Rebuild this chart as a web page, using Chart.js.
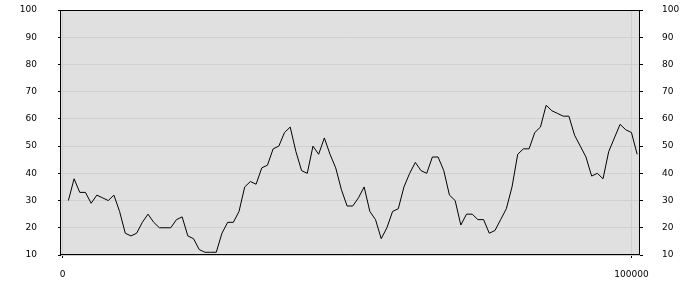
<!DOCTYPE html>
<html>
<head>
<meta charset="utf-8">
<script src="https://cdn.jsdelivr.net/npm/chart.js@4/dist/chart.umd.min.js"></script>
<style>
  html, body { margin: 0; padding: 0; background: #ffffff; }
  #wrap { width: 700px; height: 300px; }
</style>
</head>
<body>
<div id="wrap"><canvas id="c" width="700" height="300"></canvas></div>
<script>
const xValues = [
  1000, 2000, 3000, 4000, 5000, 6000, 7000, 8000, 9000, 10000,
  11000, 12000, 13000, 14000, 15000, 16000, 17000, 18000, 19000, 20000,
  21000, 22000, 23000, 24000, 25000, 26000, 27000, 28000, 29000, 30000,
  31000, 32000, 33000, 34000, 35000, 36000, 37000, 38000, 39000, 40000,
  41000, 42000, 43000, 44000, 45000, 46000, 47000, 48000, 49000, 50000,
  51000, 52000, 53000, 54000, 55000, 56000, 57000, 58000, 59000, 60000,
  61000, 62000, 63000, 64000, 65000, 66000, 67000, 68000, 69000, 70000,
  71000, 72000, 73000, 74000, 75000, 76000, 77000, 78000, 79000, 80000,
  81000, 82000, 83000, 84000, 85000, 86000, 87000, 88000, 89000, 90000,
  91000, 92000, 93000, 94000, 95000, 96000, 97000, 98000, 99000, 100000,
  101000
];
const yValues = [
  30, 38, 33, 33, 29, 32, 31, 30, 32, 26,
  18, 17, 18, 22, 25, 22, 20, 20, 20, 23,
  24, 17, 16, 12, 11, 11, 11, 18, 22, 22,
  26, 35, 37, 36, 42, 43, 49, 50, 55, 57,
  48, 41, 40, 50, 47, 53, 47, 42, 34, 28,
  28, 31, 35, 26, 23, 16, 20, 26, 27, 35,
  40, 44, 41, 40, 46, 46, 41, 32, 30, 21,
  25, 25, 23, 23, 18, 19, 23, 27, 35, 47,
  49, 49, 55, 57, 65, 63, 62, 61, 61, 54,
  50, 46, 39, 40, 38, 48, 53, 58, 56, 55,
  47
];
const xTickValues = [0, 100000];
const yTickValues = [10, 20, 30, 40, 50, 60, 70, 80, 90, 100];

const points = xValues.map((x, i) => ({ x: x, y: yValues[i] }));
const tickFont = { family: 'DejaVu Sans', size: 9 };

const framePlugin = {
  id: 'frame',
  beforeDraw(chart) {
    const a = chart.chartArea, ctx = chart.ctx;
    ctx.save();
    ctx.fillStyle = '#e0e0e0';
    ctx.fillRect(a.left, a.top, a.right - a.left, a.bottom - a.top);
    ctx.restore();
  },
  afterDraw(chart) {
    const a = chart.chartArea, ctx = chart.ctx;
    ctx.save();
    ctx.strokeStyle = '#000000';
    ctx.lineWidth = 1;
    ctx.strokeRect(Math.round(a.left) - 0.5, Math.round(a.top) + 0.5,
                   Math.round(a.right) - Math.round(a.left), Math.round(a.bottom) - Math.round(a.top) - 1);
    ctx.restore();
  }
};

function yAxis(pos, width, pad, onArea) {
  return {
    type: 'linear',
    position: pos,
    min: 10,
    max: 100,
    afterBuildTicks: s => { s.ticks = yTickValues.map(v => ({ value: v })); },
    afterFit: s => { s.width = width; s.paddingTop = 5; s.paddingBottom = 5; },
    border: { display: false },
    grid: {
      display: true,
      drawOnChartArea: onArea,
      color: '#d0d0d0',
      tickColor: '#000000',
      tickLength: 3,
      lineWidth: 1
    },
    ticks: { font: tickFont, color: '#000000', padding: pad, callback: v => String(v) }
  };
}

new Chart(document.getElementById('c'), {
  type: 'line',
  data: {
    datasets: [{
      data: points,
      borderColor: '#000000',
      borderWidth: 1,
      pointRadius: 0,
      fill: false,
      tension: 0,
      yAxisID: 'y'
    }]
  },
  options: {
    responsive: false,
    animation: false,
    layout: { padding: { top: 10, left: 0, right: 0, bottom: 0 } },
    plugins: { legend: { display: false }, tooltip: { enabled: false } },
    scales: {
      x: {
        type: 'linear',
        position: 'bottom',
        min: -300,
        max: 101500,
        afterBuildTicks: s => { s.ticks = xTickValues.map(v => ({ value: v })); },
        afterFit: s => { s.height = 45; },
        border: { display: false },
        grid: {
          display: true,
          color: '#d0d0d0',
          tickColor: '#000000',
          tickLength: 3,
          lineWidth: 1
        },
        ticks: { font: tickFont, color: '#000000', padding: 11, maxRotation: 0, callback: v => String(v) }
      },
      y: yAxis('left', 61, 21, true),
      y2: yAxis('right', 60, 19, false)
    }
  },
  plugins: [framePlugin]
});
</script>
</body>
</html>
